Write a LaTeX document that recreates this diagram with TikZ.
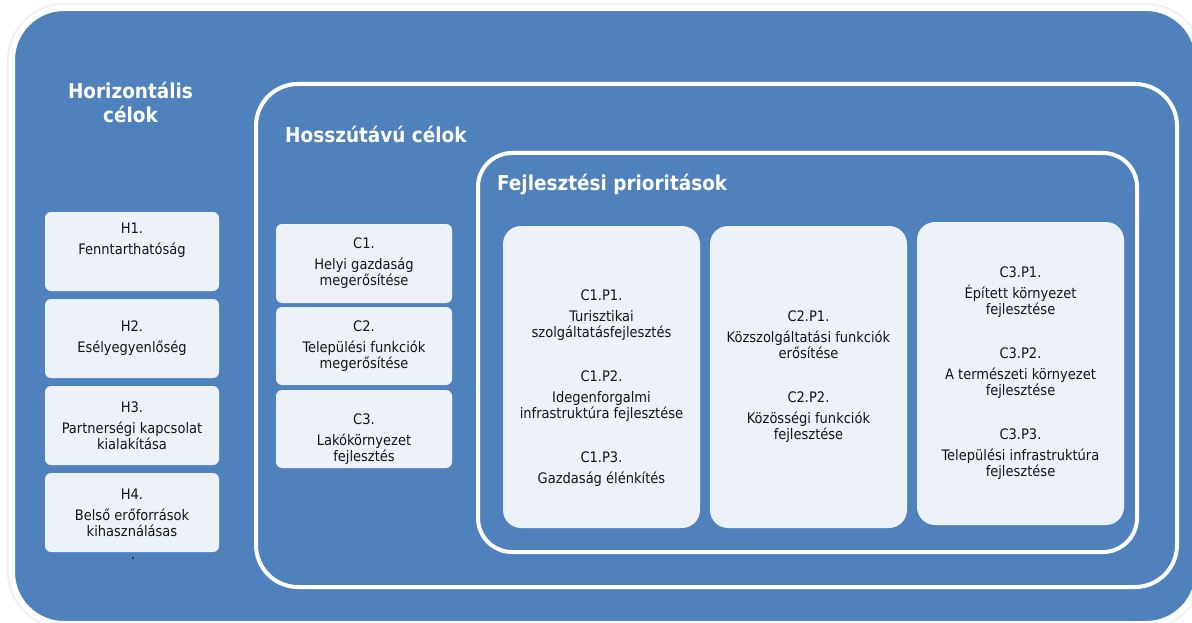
\documentclass[tikz,border=0pt]{standalone}
\usepackage{fontspec}
\setmainfont{DejaVu Sans Condensed}
\definecolor{bgblue}{RGB}{79,129,189}
\definecolor{boxfill}{RGB}{237,241,248}
\definecolor{txt}{RGB}{20,20,20}
\tikzset{
  smallbox/.style={fill=boxfill, rounded corners=6pt, inner sep=0pt},
  bigbox/.style={fill=boxfill, rounded corners=18pt, inner sep=0pt},
  body/.style={text=txt, align=center, inner sep=0pt, font=\fontsize{14.5}{16}\selectfont},
  titletext/.style={text=white, inner sep=0pt, font=\bfseries\fontsize{20.5}{24}\selectfont},
  whiteframe/.style={draw=white, line width=4pt}
}
\begin{document}
\begin{tikzpicture}[x=1pt,y=-1pt]
\useasboundingbox (0,0) rectangle (1192,623);
% outer panel
\draw[black!6, line width=10pt, rounded corners=52pt] (12,8) rectangle (1198,624);
\draw[fill=bgblue, draw=white, line width=6pt, rounded corners=52pt] (12,8) rectangle (1198,624);
% Hosszutavu frame
\draw[whiteframe, rounded corners=42pt] (256,84) rectangle (1177,587);
% Fejlesztesi frame
\draw[whiteframe, rounded corners=34pt] (478,153) rectangle (1137,552);

% titles
\node[titletext, align=center, anchor=base] (htitle) at (130.5,123) {Horizontális\\célok};
\node[titletext, anchor=base west] (ctitle) at (285,143) {Hosszútávú célok};
\node[titletext, anchor=base west] (ptitle) at (497,190) {Fejlesztési prioritások};

% H boxes
\node[smallbox, minimum width=174pt, minimum height=79pt] (h1) at (132,251.5) {};
\node[smallbox, minimum width=174pt, minimum height=79pt] (h2) at (132,338.5) {};
\node[smallbox, minimum width=174pt, minimum height=79pt] (h3) at (132,425.5) {};
\node[smallbox, minimum width=174pt, minimum height=79pt] (h4) at (132,512.5) {};
\node[body] (h1t) at ([yshift=11pt]h1.center) {H1.\\[5pt]Fenntarthatóság};
\node[body] (h2t) at (h2.center) {H2.\\[5pt]Esélyegyenlőség};
\node[body] (h3t) at (h3.center) {H3.\\[5pt]Partnerségi kapcsolat\\kialakítása};
\node[body] (h4t) at (h4.center) {H4.\\[5pt]Belső erőforrások\\kihasználásas};
\node[body, anchor=base] (dot) at (133,559) {.};

% C boxes
\node[smallbox, minimum width=176pt, minimum height=79pt] (c1) at (364,263.5) {};
\node[smallbox, minimum width=176pt, minimum height=78pt] (c2) at (364,346) {};
\node[smallbox, minimum width=176pt, minimum height=78pt] (c3) at (364,429) {};
\node[body] (c1t) at (c1.center) {C1.\\[5pt]Helyi gazdaság\\megerősítése};
\node[body] (c2t) at (c2.center) {C2.\\[5pt]Települési funkciók\\megerősítése};
\node[body] (c3t) at ([yshift=-10pt]c3.center) {C3.\\[5pt]Lakókörnyezet\\fejlesztés};

% P boxes
\node[bigbox, minimum width=197pt, minimum height=302pt] (p1) at (601.5,377) {};
\node[bigbox, minimum width=197pt, minimum height=302pt] (p2) at (808.5,377) {};
\node[bigbox, minimum width=207pt, minimum height=303pt] (p3) at (1020.5,373.5) {};
\node[body] (p1t) at ([yshift=-11pt]p1.center) {C1.P1.\\[5pt]Turisztikai\\szolgáltatásfejlesztés\\[28pt]C1.P2.\\[5pt]Idegenforgalmi\\infrastruktúra fejlesztése\\[28pt]C1.P3.\\[5pt]Gazdaság élénkítés};
\node[body] (p2t) at (p2.center) {C2.P1.\\[5pt]Közszolgáltatási funkciók\\erősítése\\[28pt]C2.P2.\\[5pt]Közösségi funkciók\\fejlesztése};
\node[body] (p3t) at (p3.center) {C3.P1.\\[5pt]Épített környezet\\fejlesztése\\[28pt]C3.P2.\\[5pt]A természeti környezet\\fejlesztése\\[28pt]C3.P3.\\[5pt]Települési infrastruktúra\\fejlesztése};
\end{tikzpicture}
\end{document}
